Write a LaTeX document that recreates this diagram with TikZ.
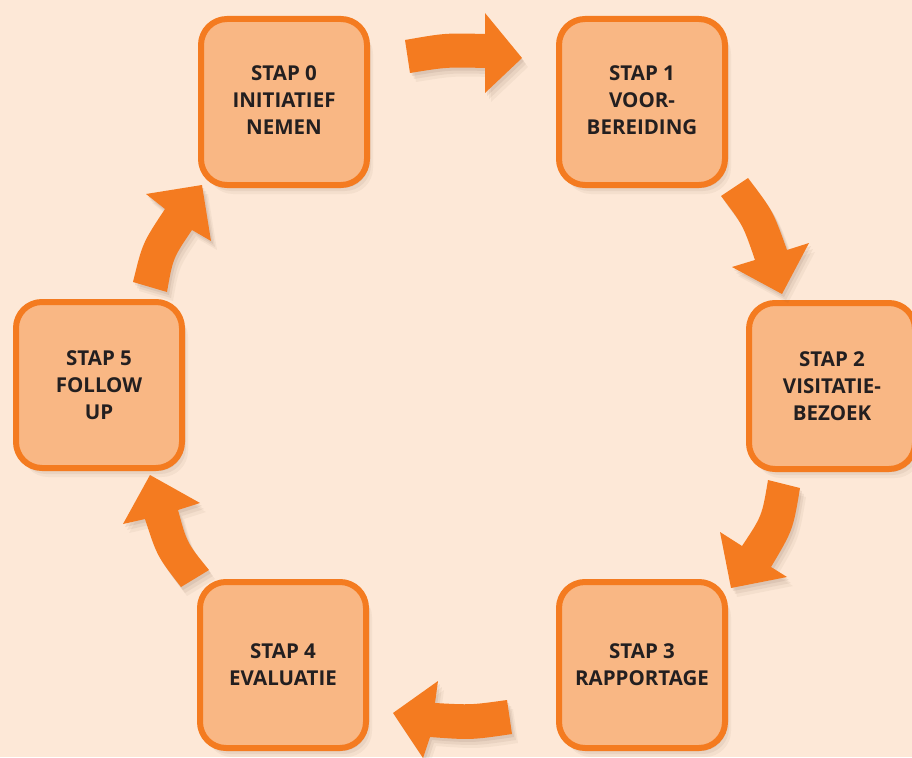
\documentclass[tikz,border=0pt]{standalone}
\usepackage{fontspec}
\setmainfont{Open Sans}
\usetikzlibrary{shadows}
\definecolor{bgc}{RGB}{253,232,215}
\definecolor{boxc}{RGB}{249,183,132}
\definecolor{orangec}{RGB}{244,123,32}
\definecolor{textc}{RGB}{35,31,32}
\definecolor{shadowc}{RGB}{110,80,60}
\newcommand{\raisedlines}[1]{\raisebox{4pt}{\begin{tabular}{@{}c@{}}#1\end{tabular}}}
\tikzset{
  softshadow/.style={
    drop shadow={shadow xshift=2pt,shadow yshift=-3pt,opacity=0.10,fill=shadowc},
    drop shadow={shadow xshift=4pt,shadow yshift=-6pt,opacity=0.08,fill=shadowc},
    drop shadow={shadow xshift=6pt,shadow yshift=-9pt,opacity=0.06,fill=shadowc}},
  stapbox/.style={softshadow, draw=orangec, line width=6pt, fill=boxc,
    rounded corners=26pt, minimum width=166pt, minimum height=166pt,
    inner sep=0pt, align=center, text=textc,
    font=\bfseries\fontsize{20.5}{26.7}\selectfont},
  blockarrow/.style={softshadow, fill=orangec}
}
\begin{document}
\begin{tikzpicture}[x=1pt,y=-1pt]
\useasboundingbox (0,0) rectangle (912,757);
\clip (0,0) rectangle (912,757);
\fill[bgc] (0,0) rectangle (912,757);

% boxes
\node[stapbox] (s0) at (284,102) {\raisedlines{STAP 0\\INITIATIEF\\NEMEN}};
\node[stapbox] (s1) at (642,102) {\raisedlines{STAP 1\\VOOR-\\BEREIDING}};
\node[stapbox] (s2) at (832,386) {STAP 2\\VISITATIE-\\BEZOEK};
\node[stapbox] (s3) at (642,665) {STAP 3\\RAPPORTAGE};
\node[stapbox] (s4) at (283,665) {STAP 4\\EVALUATIE};
\node[stapbox] (s5) at (99,385) {STAP 5\\FOLLOW\\UP};

% arrows (curved block arrows around the cycle)
% 0 -> 1
\fill[blockarrow] (410,73) -- (405,40) .. controls (445,33) .. (485,34)
  -- (485,13) -- (522,58) -- (485,93) -- (485,68)
  .. controls (447,67) .. (410,73) -- cycle;
% 1 -> 2
\fill[blockarrow] (721,196) -- (748,178) .. controls (773,211) .. (787,250)
  -- (809,243) -- (782,294) -- (732,267) -- (755,260)
  .. controls (743,225) .. (721,196) -- cycle;
% 2 -> 3
\fill[blockarrow] (768,480) -- (800,488) .. controls (793,530) .. (771,567)
  -- (787,577) -- (731,588) -- (720,532) -- (742,546)
  .. controls (762,516) .. (768,480) -- cycle;
% 3 -> 4
\fill[blockarrow] (507,700) -- (512,734) .. controls (471,740) .. (430,737)
  -- (423,758) -- (393,713) -- (438,681) -- (435,703)
  .. controls (471,705) .. (507,700) -- cycle;
% 4 -> 5
\fill[blockarrow] (209,570) -- (181,587) .. controls (157,556) .. (145,519)
  -- (123,524) -- (150,475) -- (200,503) -- (178,510)
  .. controls (187,543) .. (209,570) -- cycle;
% 5 -> 0
\fill[blockarrow] (133,282) -- (167,292) .. controls (173,258) .. (192,230)
  -- (211,241) -- (202,185) -- (146,194) -- (165,209)
  .. controls (142.5,243) .. (133,282) -- cycle;
\end{tikzpicture}
\end{document}
